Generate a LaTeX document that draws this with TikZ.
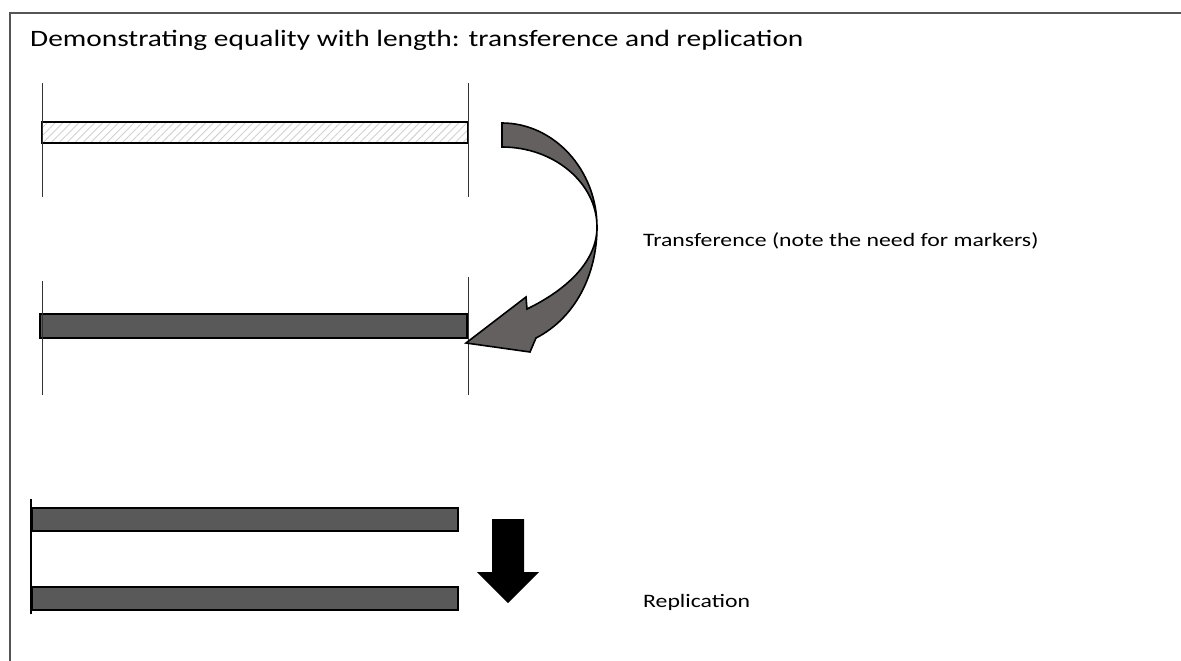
\documentclass[tikz,border=0pt]{standalone}
\usepackage{fontspec}
\setmainfont{Carlito}
\usetikzlibrary{patterns.meta}
\definecolor{framegray}{HTML}{555555}
\definecolor{bargray}{HTML}{595959}
\definecolor{arcgray}{HTML}{63605F}
\tikzset{
  frameline/.style={draw=framegray, line width=1.6pt},
  marker/.style={draw=black!80, line width=1pt},
  thickmarker/.style={draw=black, line width=2.5pt},
  bar/.style={rectangle, inner sep=0pt, draw=black, line width=2pt, fill=bargray},
  hatchbar/.style={rectangle, inner sep=0pt, fill=white,
    postaction={pattern={Lines[angle=45,distance=5.6pt,line width=0.9pt]}, pattern color=black!18},
    postaction={draw=black, line width=2pt}},
  label/.style={anchor=base west, inner sep=0pt, text=black},
}
\newcommand{\wide}[1]{\scalebox{1.25}[1]{#1}}
\begin{document}
\begin{tikzpicture}[x=1pt,y=-1pt]
\useasboundingbox (0,0) rectangle (1181,661);
% outer frame (left and top edges)
\draw[frameline] (10,661) -- (10,13) -- (1181,13);

% title
\node[label, font=\fontsize{23.5}{28}\selectfont] (title) at (30,47)
  {\wide{Demonstrating equality with length: transference and replication}};

% transference: original (hatched) length and its markers
\node[hatchbar, minimum width=426pt, minimum height=21pt] (orig) at (255,132) {};
\coordinate (m1t) at (42,83);  \coordinate (m1b) at (42,197);
\coordinate (m2t) at (468,83); \coordinate (m2b) at (468,197);
\draw[marker] (m1t) -- (m1b);
\draw[marker] (m2t) -- (m2b);

% transference: transferred length and its markers
\node[bar, minimum width=427pt, minimum height=24pt] (copy) at (253.5,326) {};
\coordinate (m3t) at (42,281);  \coordinate (m3b) at (42,395);
\coordinate (m4t) at (468,277); \coordinate (m4b) at (468,395);
\draw[marker] (m3t) -- (m3b);
\draw[marker] (m4t) -- (m4b);

% curved transfer arrow
\filldraw[fill=arcgray, draw=black, line width=1.6pt, line join=miter]
  (502,123) .. controls (554,123) and (597,170) .. (597,227)
  .. controls (597,275) and (575,318) .. (536,338)
  -- (530,352) -- (466,343) -- (526,297) -- (527,309)
  .. controls (566,290) and (597,262) .. (597,227)
  .. controls (597,183) and (554,147) .. (502,147) -- cycle;
\node[label, font=\fontsize{19}{23}\selectfont] (tlabel) at (643,246)
  {\wide{Transference (note the need for markers)}};

% replication
\node[bar, minimum width=426pt, minimum height=23pt] (rep1) at (245,519.5) {};
\node[bar, minimum width=426pt, minimum height=23pt] (rep2) at (245,598.5) {};
\coordinate (m5t) at (31,499); \coordinate (m5b) at (31,614);
\draw[thickmarker] (m5t) -- (m5b);
\fill[black] (492,519) -- (524,519) -- (524,572) -- (539,572) -- (508,603)
  -- (477,572) -- (492,572) -- cycle;
\node[label, font=\fontsize{19}{23}\selectfont] (rlabel) at (643,607) {\wide{Replication}};
\end{tikzpicture}
\end{document}
